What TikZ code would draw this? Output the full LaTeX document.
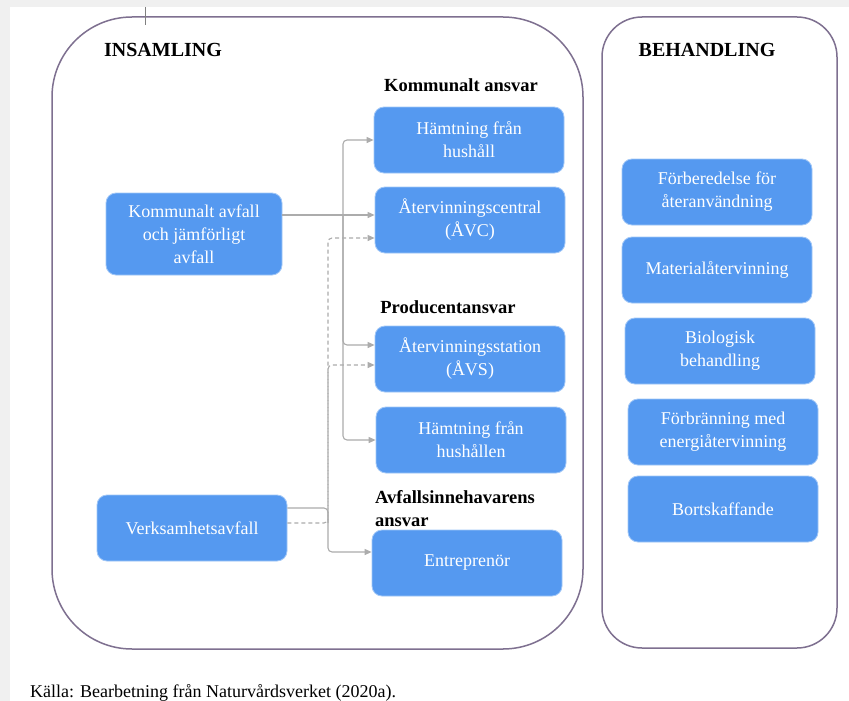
\documentclass[tikz,border=0pt]{standalone}
\usepackage{fontspec}
\setmainfont{Liberation Serif}
\usetikzlibrary{arrows.meta}
\definecolor{boxblue}{RGB}{85,153,240}
\definecolor{framegray}{RGB}{126,112,144}
\definecolor{linegray}{RGB}{172,172,172}
\tikzset{
  wastebox/.style={draw=boxblue!55!white, line width=0.8pt, fill=boxblue, rounded corners=10pt,
    text=white, align=center, minimum width=190pt, minimum height=66pt, inner sep=2pt,
    font=\fontsize{18}{23}\selectfont},
  heading/.style={font=\fontsize{18.5}{23}\selectfont\bfseries, align=left, inner sep=0pt},
  flow/.style={draw=linegray, line width=1.1pt, rounded corners=4pt,
    -{Triangle[length=7pt,width=6pt,fill=linegray]}},
  dashflow/.style={flow, dash pattern=on 4pt off 3pt},
}

\begin{document}
\begin{tikzpicture}[x=1pt,y=-1pt]
% page background
\fill[gray!12] (0,0) rectangle (849,701);
\fill[white] (10,7) rectangle (849,701);
\useasboundingbox (0,0) rectangle (849,701);

% the two frames
\draw[framegray, line width=1.5pt, rounded corners=80pt] (52,17) rectangle (583,649);
\draw[framegray, line width=1.5pt, rounded corners=40pt] (602,17) rectangle (837,648);
\draw[gray, line width=0.8pt] (145,7) -- (145,25);

% headings
\node[heading, font=\fontsize{20}{24}\selectfont\bfseries] (insamling) at (163,50) {INSAMLING};
\node[heading, font=\fontsize{20}{24}\selectfont\bfseries] (behandling) at (707,50) {BEHANDLING};
\node[heading] (kansvar) at (461,85) {Kommunalt ansvar};
\node[heading] (pansvar) at (448,307) {Producentansvar};
\node[heading, anchor=west] (aansvar) at (375,509) {Avfallsinnehavarens\\ansvar};

% waste streams
\node[wastebox, minimum width=176pt, minimum height=82pt] (kav) at (194,234) {Kommunalt avfall\\och jämförligt\\avfall};
\node[wastebox] (vav) at (192,528) {Verksamhetsavfall};

% collection
\node[wastebox] (hhush) at (469,140) {Hämtning från\\hushåll};
\node[wastebox] (avc) at (470,220) {Återvinningscentral\\(ÅVC)};
\node[wastebox] (avs) at (470,359) {Återvinningsstation\\(ÅVS)};
\node[wastebox] (hhushen) at (471,440) {Hämtning från\\hushållen};
\node[wastebox] (entr) at (467,563) {Entreprenör};

% treatment
\node[wastebox] (forb) at (717,192) {Förberedelse för\\återanvändning};
\node[wastebox] (mat) at (717,270) {Materialåtervinning};
\node[wastebox] (bio) at (720,351) {Biologisk\\behandling};
\node[wastebox] (forbr) at (723,432) {Förbränning med\\energiåtervinning};
\node[wastebox] (bort) at (723,509) {Bortskaffande};

% connectors
\coordinate (j1) at (343,215);
\coordinate (j2) at (328,523);
\coordinate (j3) at (328,508);
\draw[flow] (kav.east |- j1) -- (avc.west |- j1);
\draw[flow] (j1) |- (hhush.west);
\draw[flow] (j1) |- ([yshift=14pt]avs.west);
\draw[flow] (j1) |- (hhushen.west);
\draw[dashflow] (vav.east |- j2) -- (j2) |- ([yshift=-18pt]avc.west);
\draw[dashflow] (j2) |- ([yshift=-6pt]avs.west);
\draw[flow] (vav.east |- j3) -- (j3) |- ([yshift=11pt]entr.west);

% source
\node[anchor=base west, inner sep=0pt, font=\fontsize{18}{22}\selectfont] (kalla) at (30,697) {Källa: Bearbetning från Naturvårdsverket (2020a).};
\end{tikzpicture}
\end{document}
